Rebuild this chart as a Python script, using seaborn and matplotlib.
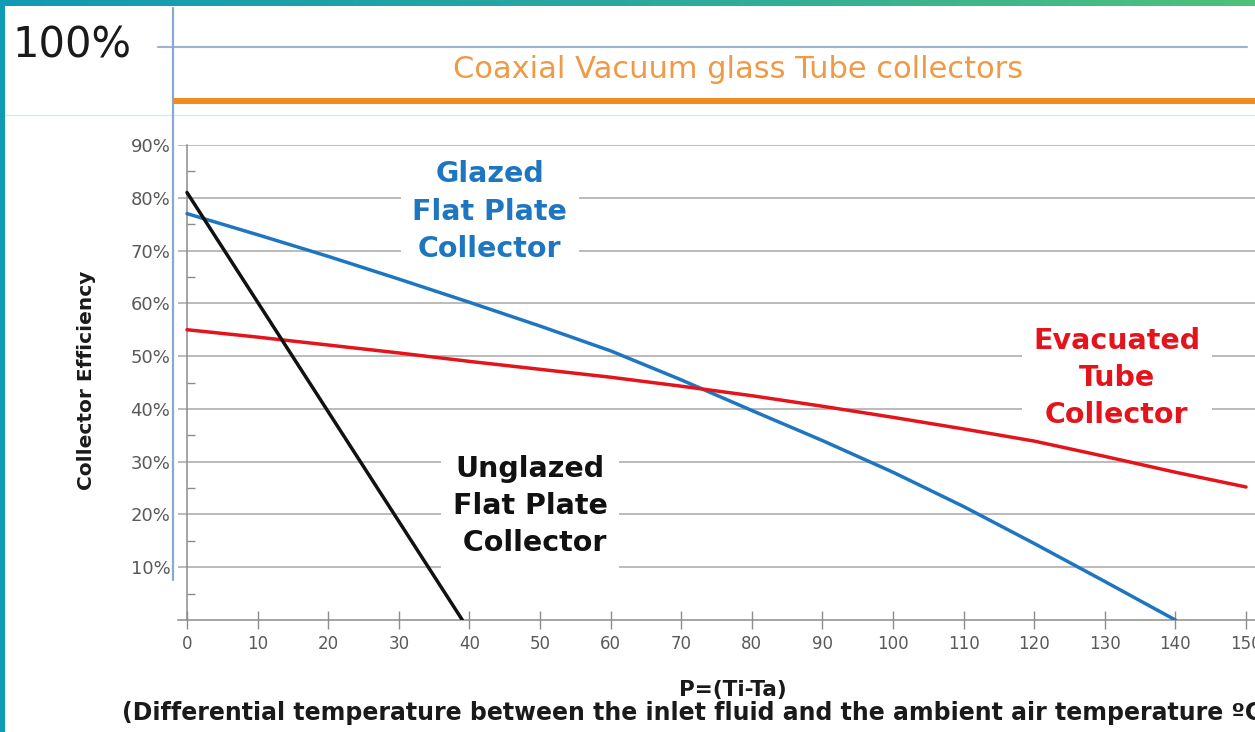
import matplotlib
import matplotlib.pyplot as plt
import numpy as np
import pandas as pd
import seaborn as sns
from matplotlib.colors import LinearSegmentedColormap
from matplotlib.patches import Rectangle
from matplotlib.ticker import PercentFormatter

matplotlib.use("Agg")

# ---------------------------------------------------------------------------
# Data (efficiency as fraction, x = Ti - Ta in degC)
# ---------------------------------------------------------------------------
GLAZED_X   = [0, 10, 20, 30, 40, 50, 60, 70, 80, 90, 100, 110, 120, 130, 140]
GLAZED_EFF = [0.77, 0.73, 0.689, 0.646, 0.602, 0.557, 0.51, 0.455, 0.397,
              0.34, 0.28, 0.215, 0.145, 0.073, 0.0]

EVAC_X   = [0, 10, 20, 30, 40, 50, 60, 70, 80, 90, 100, 110, 120, 130, 140, 150]
EVAC_EFF = [0.55, 0.536, 0.521, 0.506, 0.49, 0.475, 0.46, 0.443, 0.425,
            0.405, 0.384, 0.362, 0.339, 0.31, 0.28, 0.252]

UNGLAZED_X   = [0, 39]
UNGLAZED_EFF = [0.81, 0.0]

X_TICKS = list(range(0, 151, 10))
Y_TICKS = [0.1, 0.2, 0.3, 0.4, 0.5, 0.6, 0.7, 0.8, 0.9]

COLORS = {"Glazed": "#1f76c0", "Evacuated": "#e3141c", "Unglazed": "#111111"}

W, H = 1255, 732

df = pd.concat([
    pd.DataFrame({"dt": GLAZED_X, "eff": GLAZED_EFF, "collector": "Glazed"}),
    pd.DataFrame({"dt": EVAC_X, "eff": EVAC_EFF, "collector": "Evacuated"}),
    pd.DataFrame({"dt": UNGLAZED_X, "eff": UNGLAZED_EFF, "collector": "Unglazed"}),
], ignore_index=True)

sns.set_theme(style="white")
plt.rcParams["font.family"] = ["DejaVu Sans"]

fig = plt.figure(figsize=(W / 100, H / 100), dpi=100)
fig.patch.set_facecolor("white")

# ---------------------------------------------------------------------------
# Slide decoration (pixel coordinates)
# ---------------------------------------------------------------------------
bg = fig.add_axes([0, 0, 1, 1], zorder=0)
grad = np.linspace(0, 1, 256).reshape(1, -1)
cmap = LinearSegmentedColormap.from_list("band", ["#119ab4", "#2aa99f", "#50c17a"])
bg.imshow(grad, cmap=cmap, extent=(0, W, 6, 0), aspect="auto")
bg.add_patch(Rectangle((0, 0), 5, H, color="#0f9cb3", lw=0))
bg.plot([5, W], [115, 115], color="#d3ebf0", lw=1)
bg.plot([158, 1247], [47, 47], color="#9db1d2", lw=1.5)
bg.plot([173, 173], [8, 580], color="#8aa8d6", lw=1.6)
bg.plot([173, W], [101, 101], color="#f28a1e", lw=4.3, solid_capstyle="butt")
bg.text(12, 45, "100%", fontsize=30, color="#1a1a1a", ha="left", va="center")
bg.text(738, 70, "Coaxial Vacuum glass Tube collectors", fontsize=22,
        color="#ee9a47", ha="center", va="center")
bg.set_xlim(0, W)
bg.set_ylim(H, 0)
bg.axis("off")

# ---------------------------------------------------------------------------
# Main chart
# ---------------------------------------------------------------------------
x0_px, px_per_unit = 187, 7.06
xmin, xmax = -1.3, 152
left = (x0_px + xmin * px_per_unit) / W
width = (xmax - xmin) * px_per_unit / W
ax = fig.add_axes([left, (H - 620) / H, width, (620 - 145) / H], zorder=1)
ax.set_facecolor("none")

sns.lineplot(data=df, x="dt", y="eff", hue="collector", palette=COLORS,
             linewidth=2.5, legend=False, ax=ax, zorder=3)

ax.set_xlim(xmin, xmax)
ax.set_ylim(0, 0.9)
ax.set_xticks(X_TICKS)
ax.set_yticks(Y_TICKS)
ax.yaxis.set_major_formatter(PercentFormatter(1.0, decimals=0))
ax.set_yticks([v - 0.05 for v in Y_TICKS], minor=True)

ax.grid(axis="y", color="#a8a8a8", lw=1.1, zorder=0)
ax.grid(axis="x", visible=False)
for s in ("top", "right"):
    ax.spines[s].set_visible(False)
ax.spines["left"].set_position(("data", 0))
for s in ("left", "bottom"):
    ax.spines[s].set_color("#8c8c8c")
    ax.spines[s].set_linewidth(1.1)

ax.tick_params(axis="x", which="major", direction="inout", length=13, width=1,
               color="#8c8c8c", labelsize=12, labelcolor="#595959", pad=4,
               bottom=True)
ax.tick_params(axis="y", which="major", length=0, labelsize=13,
               labelcolor="#595959", pad=12)
ax.tick_params(axis="y", which="minor", direction="in", length=6, width=1,
               color="#8c8c8c", left=True)

ax.set_ylabel("Collector Efficiency", fontsize=14.5, fontweight="bold",
              color="#1a1a1a")
ax.yaxis.set_label_coords(87 / W, 1 - 380 / H, transform=fig.transFigure)
ax.yaxis.label.set_va("center")

ax.set_xlabel("P=(Ti-Ta)", fontsize=15.5, fontweight="bold", color="#1a1a1a")
ax.xaxis.set_label_coords(733 / W, 1 - 690 / H, transform=fig.transFigure)
ax.xaxis.label.set_va("center")
fig.text(122 / W, 1 - 713 / H,
         "(Differential temperature between the inlet fluid and the ambient air temperature ºC",
         fontsize=17.0, fontweight="bold", color="#1a1a1a", ha="left", va="center")

# curve labels with white boxes cutting the gridlines
box = dict(facecolor="white", edgecolor="none", boxstyle="square,pad=0.4")
ax.text(42.9, 0.774, "Glazed\nFlat Plate\nCollector", color=COLORS["Glazed"],
        fontsize=20.5, fontweight="bold", ha="center", va="center",
        linespacing=1.42, bbox=box, zorder=2)
ax.text(131.7, 0.459, "Evacuated\nTube\nCollector", color=COLORS["Evacuated"],
        fontsize=20.5, fontweight="bold", ha="center", va="center",
        linespacing=1.42, bbox=box, zorder=2)
ax.text(48.6, 0.216, "Unglazed\nFlat Plate\n Collector", color=COLORS["Unglazed"],
        fontsize=20.5, fontweight="bold", ha="center", va="center",
        linespacing=1.42, bbox=box, zorder=2)

fig.savefig("out.png", dpi=100)
